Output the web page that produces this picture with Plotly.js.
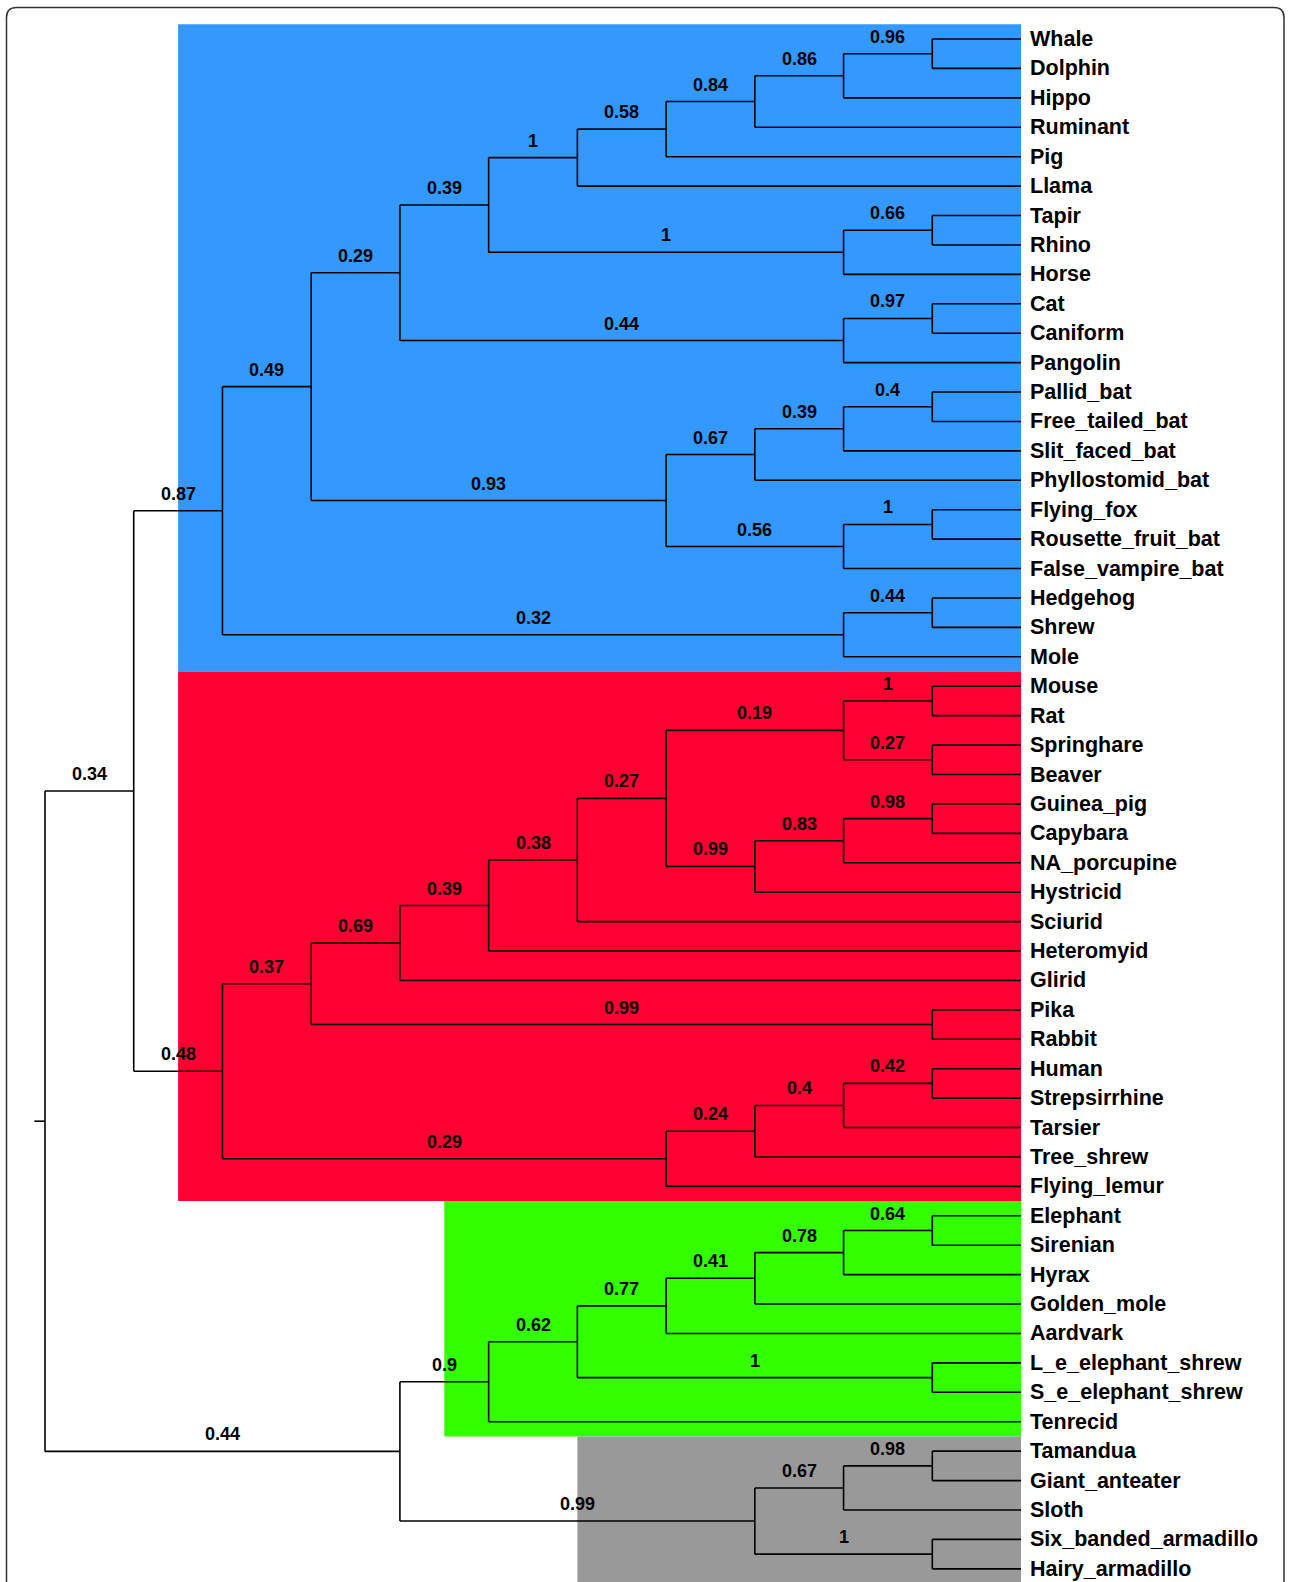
<!DOCTYPE html>
<html>
<head>
<meta charset="utf-8">
<script src="https://cdn.plot.ly/plotly-3.0.1.min.js"></script>
<style>
  html, body { margin: 0; padding: 0; background: #ffffff; }
  #chart { width: 1289px; height: 1582px; }
</style>
</head>
<body>
<div id="chart"></div>
<script>
// ---------- DATA ----------
// Tree topology with branch support values (Newick, support after each clade)
const treeNewick =
  "(" +
    "((((((((((Whale,Dolphin)0.96,Hippo)0.86,Ruminant)0.84,Pig)0.58,Llama)1," +
    "((Tapir,Rhino)0.66,Horse)1)0.39," +
    "((Cat,Caniform)0.97,Pangolin)0.44)0.29," +
    "((((Pallid_bat,Free_tailed_bat)0.4,Slit_faced_bat)0.39,Phyllostomid_bat)0.67," +
    "((Flying_fox,Rousette_fruit_bat)1,False_vampire_bat)0.56)0.93)0.49," +
    "((Hedgehog,Shrew)0.44,Mole)0.32)0.87," +
    "((((((((Mouse,Rat)1,(Springhare,Beaver)0.27)0.19," +
    "(((Guinea_pig,Capybara)0.98,NA_porcupine)0.83,Hystricid)0.99)0.27," +
    "Sciurid)0.38,Heteromyid)0.39,Glirid)0.69," +
    "(Pika,Rabbit)0.99)0.37," +
    "((((Human,Strepsirrhine)0.42,Tarsier)0.4,Tree_shrew)0.24,Flying_lemur)0.29)0.48" +
  ")0.34," +
  "(" +
    "((((((Elephant,Sirenian)0.64,Hyrax)0.78,Golden_mole)0.41,Aardvark)0.77," +
    "(L_e_elephant_shrew,S_e_elephant_shrew)1)0.62,Tenrecid)0.9," +
    "(((Tamandua,Giant_anteater)0.98,Sloth)0.67,(Six_banded_armadillo,Hairy_armadillo)1)0.99" +
  ")0.44);";

// Highlighted clades (background boxes)
const cladeFirstLeaf = ['Whale', 'Mouse', 'Elephant', 'Tamandua'];
const cladeLastLeaf  = ['Mole', 'Flying_lemur', 'Tenrecid', 'Hairy_armadillo'];
const cladeColors    = ['#3399FF', '#FF0033', '#33FF00', '#999999'];

// ---------- PARSE ----------
function parseNewick(s) {
  let pos = 0;
  function readToken() {
    let t = '';
    while (pos < s.length && ',();'.indexOf(s[pos]) < 0) { t += s[pos]; pos++; }
    return t.trim();
  }
  function node() {
    if (s[pos] === '(') {
      pos++;
      const children = [node()];
      while (s[pos] === ',') { pos++; children.push(node()); }
      pos++; // ')'
      const lab = readToken();
      return { children: children, support: lab };
    }
    return { name: readToken(), children: [] };
  }
  return node();
}
const root = parseNewick(treeNewick);

// ---------- LAYOUT ----------
const leaves = [];
function heights(n) {
  if (!n.children.length) { n.h = 0; n.y = leaves.length; leaves.push(n); return 0; }
  let m = 0;
  n.children.forEach(c => { c.parent = n; m = Math.max(m, heights(c)); });
  n.h = m + 1;
  n.y = (n.children[0].y + n.children[n.children.length - 1].y) / 2;
  return n.h;
}
heights(root);
const H = root.h;
function setX(n) { n.x = H - n.h; n.children.forEach(setX); }
setX(root);

const lx = [], ly = [];
const annotations = [];
const FAM = 'Liberation Sans';
const labelFont = { family: FAM, size: 18, color: '#000', weight: 'bold' };
const leafFont  = { family: FAM, size: 21.5, color: '#000', weight: 'bold' };
function walk(n) {
  if (!n.children.length) return;
  const c0 = n.children[0], c1 = n.children[n.children.length - 1];
  lx.push(n.x, n.x, null); ly.push(c0.y, c1.y, null);
  n.children.forEach(c => {
    lx.push(n.x, c.x, null); ly.push(c.y, c.y, null);
    if (c.support) {
      annotations.push({ x: (n.x + c.x) / 2, y: c.y, xref: 'x', yref: 'y', text: '<b>' + c.support + '</b>',
        showarrow: false, xanchor: 'center', yanchor: 'middle', yshift: 17, font: labelFont });
    }
    walk(c);
  });
}
walk(root);
// root stub
lx.push(-0.12, 0, null); ly.push(root.y, root.y, null);

leaves.forEach(l => {
  annotations.push({ x: l.x, y: l.y, xref: 'x', yref: 'y', text: '<b>' + l.name + '</b>', showarrow: false,
    xanchor: 'left', yanchor: 'middle', xshift: 7, font: leafFont });
});

// clade boxes
function findLeaf(name) { return leaves.find(l => l.name === name); }
function ancestors(n) { const a = []; while (n) { a.push(n); n = n.parent; } return a; }
const shapes = [];
cladeFirstLeaf.forEach((fn, i) => {
  const a = findLeaf(fn), b = findLeaf(cladeLastLeaf[i]);
  const ancB = ancestors(b);
  const mrca = ancestors(a).find(n => ancB.indexOf(n) >= 0);
  const px = mrca.parent ? mrca.parent.x : mrca.x;
  shapes.push({ type: 'rect', xref: 'x', yref: 'y', layer: 'below',
    x0: (px + mrca.x) / 2, x1: H, y0: a.y - 0.5, y1: b.y + 0.5,
    fillcolor: cladeColors[i], line: { width: 0 } });
});

// outer rounded frame (paper coords)
const W = 1289, Hh = 1582;
const fx = v => (v / W).toFixed(5), fy = v => (1 - v / Hh).toFixed(5);
const L = 6.5, R = 1284, T = 7.5, rad = 10;
shapes.push({ type: 'path', xref: 'paper', yref: 'paper', layer: 'above',
  path: `M ${fx(L)},-0.05 L ${fx(L)},${fy(T + rad)} Q ${fx(L)},${fy(T)} ${fx(L + rad)},${fy(T)} ` +
        `L ${fx(R - rad)},${fy(T)} Q ${fx(R)},${fy(T)} ${fx(R)},${fy(T + rad)} L ${fx(R)},-0.05`,
  line: { color: '#333333', width: 1.5 } });

// pixel mapping: level 0 -> 45px, 88.73 px per level; leaf i -> 39 + 29.42 i
const pxL = 88.73, pxY = 29.42;
const trace = { x: lx, y: ly, mode: 'lines', type: 'scatter', hoverinfo: 'skip',
  line: { color: '#000000', width: 1.6 }, cliponaxis: false };

Plotly.newPlot('chart', [trace], {
  width: W, height: Hh,
  margin: { l: 0, r: 0, t: 0, b: 0, pad: 0 },
  paper_bgcolor: '#ffffff', plot_bgcolor: 'rgba(0,0,0,0)',
  showlegend: false,
  xaxis: { range: [-45 / pxL, (W - 45) / pxL], visible: false, fixedrange: true },
  yaxis: { range: [(Hh - 39) / pxY, -39 / pxY], visible: false, fixedrange: true },
  shapes: shapes,
  annotations: annotations
}, { displayModeBar: false, staticPlot: true });
</script>
</body>
</html>
